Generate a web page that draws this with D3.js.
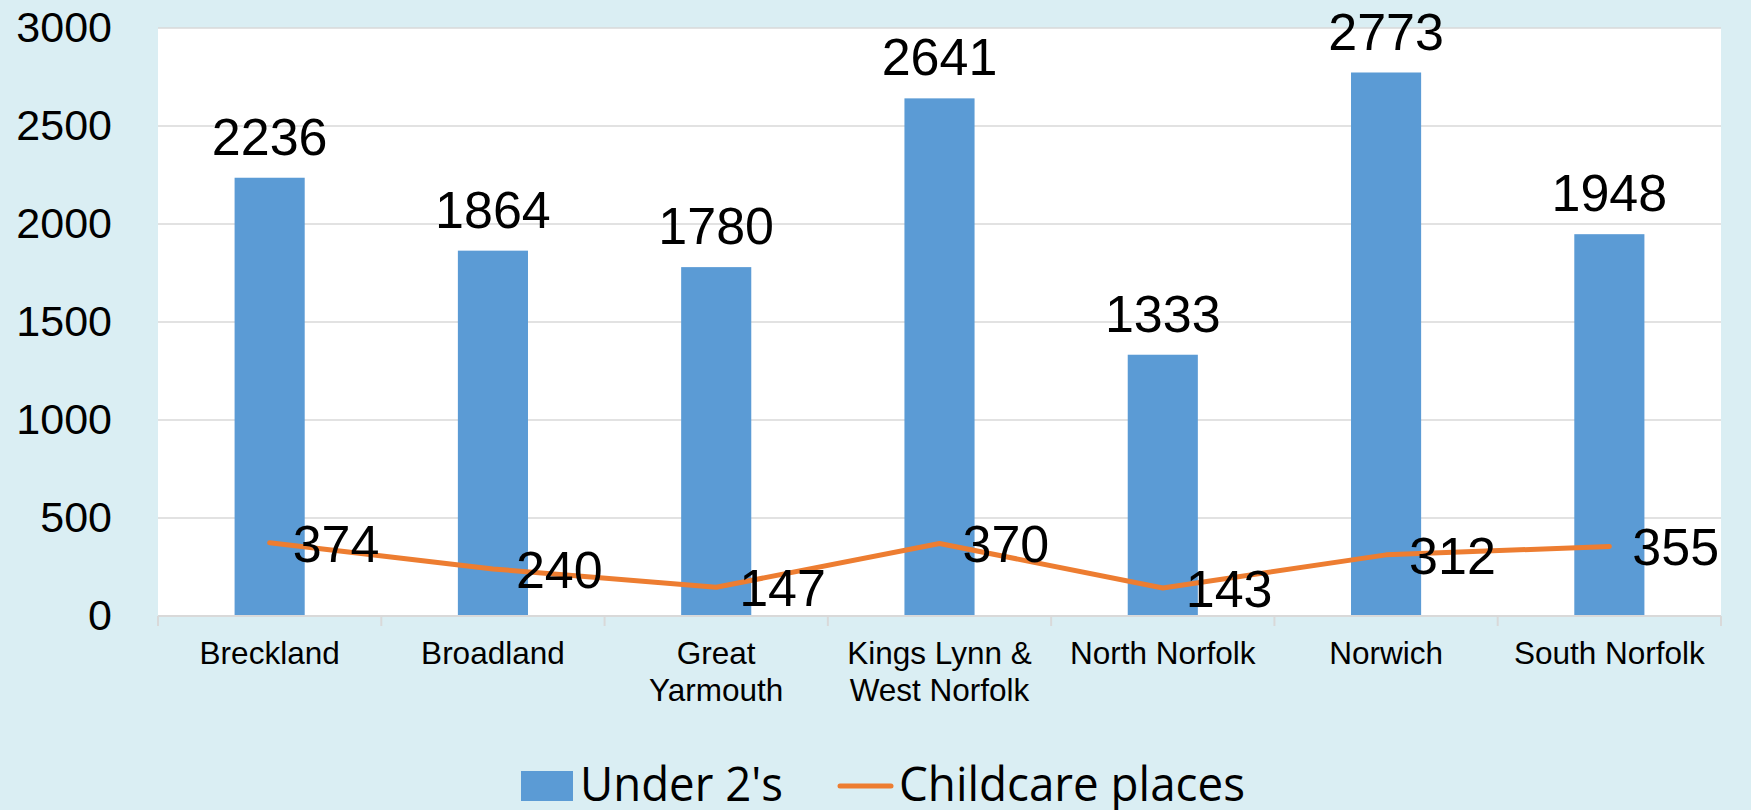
<!DOCTYPE html>
<html>
<head>
<meta charset="utf-8">
<script src="https://cdn.jsdelivr.net/npm/d3@7"></script>
<style>
  body { margin: 0; background: #daeef3; }
  svg { display: block; }
</style>
</head>
<body>
<svg id="chart"></svg>
<script>
const categories = ["Breckland", "Broadland", "Great Yarmouth", "Kings Lynn & West Norfolk", "North Norfolk", "Norwich", "South Norfolk"];
const categoryLines = [["Breckland"], ["Broadland"], ["Great", "Yarmouth"], ["Kings Lynn &", "West Norfolk"], ["North Norfolk"], ["Norwich"], ["South Norfolk"]];
const under2 = [2236, 1864, 1780, 2641, 1333, 2773, 1948];
const childcare = [374, 240, 147, 370, 143, 312, 355];
const yTicks = [0, 500, 1000, 1500, 2000, 2500, 3000];
const seriesNames = ["Under 2's", "Childcare places"];

const W = 1751, H = 810;
const margin = { top: 28, right: 30, bottom: 194, left: 158 };
const width = W - margin.left - margin.right;
const height = H - margin.top - margin.bottom;

const svg = d3.select("#chart").attr("width", W).attr("height", H);
svg.append("rect").attr("width", W).attr("height", H).attr("fill", "#daeef3");

const g = svg.append("g").attr("transform", `translate(${margin.left},${margin.top})`);
g.append("rect").attr("width", width).attr("height", height).attr("fill", "#ffffff");

const x = d3.scaleBand().domain(categories).range([0, width]).paddingInner(0.686).paddingOuter(0.343);
const y = d3.scaleLinear().domain([0, 3000]).range([height, 0]);

// gridlines
g.selectAll(".grid")
  .data(yTicks.filter((d) => d > 0))
  .join("line")
  .attr("class", "grid")
  .attr("x1", 0)
  .attr("x2", width)
  .attr("y1", (d) => y(d))
  .attr("y2", (d) => y(d))
  .attr("stroke", "#d9d9d9")
  .attr("stroke-width", 1.5);

// y axis labels
const yAxis = g.append("g").call(d3.axisLeft(y).tickValues(yTicks).tickFormat(d3.format("d")).tickSize(0).tickPadding(46));
yAxis.select(".domain").remove();
yAxis.selectAll("text")
  .attr("font-family", "Liberation Sans, Arial, sans-serif")
  .attr("font-size", 43)
  .attr("fill", "#000");

// bars
g.selectAll(".bar")
  .data(under2)
  .join("rect")
  .attr("class", "bar")
  .attr("x", (d, i) => x(categories[i]))
  .attr("width", x.bandwidth())
  .attr("y", (d) => y(d))
  .attr("height", (d) => height - y(d))
  .attr("fill", "#5b9bd5");

// x axis
const step = x.step();
const xAxis = g.append("g").attr("transform", `translate(0,${height})`);
xAxis.append("line").attr("x1", 0).attr("x2", width).attr("stroke", "#d9d9d9").attr("stroke-width", 2);
xAxis.selectAll(".tick")
  .data(d3.range(categories.length + 1))
  .join("line")
  .attr("class", "tick")
  .attr("x1", (i) => i * step)
  .attr("x2", (i) => i * step)
  .attr("y1", 0)
  .attr("y2", 10)
  .attr("stroke", "#d9d9d9")
  .attr("stroke-width", 2);

const catLabels = xAxis.selectAll(".cat")
  .data(categories)
  .join("text")
  .attr("class", "cat")
  .attr("text-anchor", "middle")
  .attr("font-family", "Liberation Sans, Arial, sans-serif")
  .attr("font-size", 31.5)
  .attr("fill", "#000")
  .attr("transform", (d) => `translate(${x(d) + x.bandwidth() / 2},0)`);
catLabels.selectAll("tspan")
  .data((d, i) => categoryLines[i])
  .join("tspan")
  .attr("x", 0)
  .attr("y", (d, j) => 48 + j * 37)
  .text((d) => d);

// bar labels
g.selectAll(".barLabel")
  .data(under2)
  .join("text")
  .attr("class", "barLabel")
  .attr("x", (d, i) => x(categories[i]) + x.bandwidth() / 2)
  .attr("y", (d) => y(d) - 23)
  .attr("text-anchor", "middle")
  .attr("font-family", "Liberation Sans, Arial, sans-serif")
  .attr("font-size", 52)
  .attr("fill", "#000")
  .text((d) => d);

// line
const line = d3.line()
  .x((d, i) => x(categories[i]) + x.bandwidth() / 2)
  .y((d) => y(d));
g.append("path")
  .datum(childcare)
  .attr("d", line)
  .attr("fill", "none")
  .attr("stroke", "#ed7d31")
  .attr("stroke-width", 5)
  .attr("stroke-linecap", "round")
  .attr("stroke-linejoin", "round");

g.selectAll(".lineLabel")
  .data(childcare)
  .join("text")
  .attr("class", "lineLabel")
  .attr("x", (d, i) => x(categories[i]) + x.bandwidth() / 2 + 23)
  .attr("y", (d) => y(d) + 19)
  .attr("font-family", "Liberation Sans, Arial, sans-serif")
  .attr("font-size", 52)
  .attr("fill", "#000")
  .text((d) => d);

// legend
const legend = svg.append("g").attr("font-family", "Open Sans, Noto Sans, sans-serif").attr("font-size", 47).attr("fill", "#000");
legend.append("rect").attr("x", 521).attr("y", 771).attr("width", 52).attr("height", 30).attr("fill", "#5b9bd5");
legend.append("text").attr("x", 580).attr("y", 801).attr("textLength", 203).attr("lengthAdjust", "spacingAndGlyphs").text(seriesNames[0]);
legend.append("line").attr("x1", 840).attr("x2", 891).attr("y1", 786).attr("y2", 786)
  .attr("stroke", "#ed7d31").attr("stroke-width", 5).attr("stroke-linecap", "round");
legend.append("text").attr("x", 899).attr("y", 801).attr("textLength", 346).attr("lengthAdjust", "spacingAndGlyphs").text(seriesNames[1]);
</script>
</body>
</html>
